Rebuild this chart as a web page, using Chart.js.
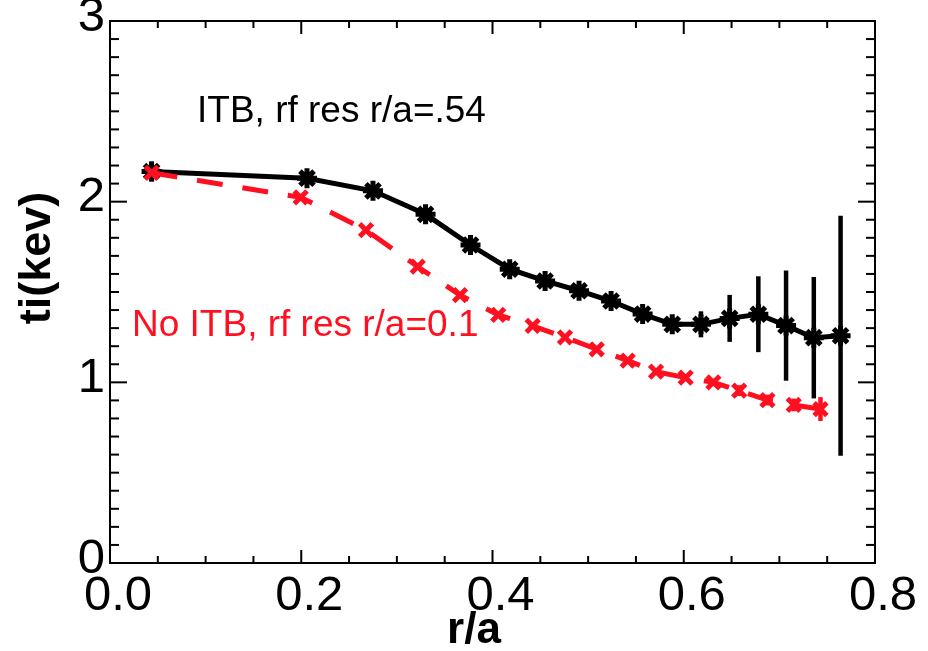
<!DOCTYPE html>
<html>
<head>
<meta charset="utf-8">
<script src="https://cdn.jsdelivr.net/npm/chart.js@4"></script>
<style>
  html, body { margin: 0; padding: 0; background: #fff; }
  canvas { display: block; }
</style>
</head>
<body>
<canvas id="tiChart" width="928" height="651"></canvas>
<script>
// r/a positions and ion temperatures (keV)
const rItb = [0.0435, 0.206, 0.275, 0.330, 0.377, 0.418, 0.455, 0.4905, 0.524, 0.557, 0.588, 0.618, 0.648, 0.678, 0.707, 0.736, 0.764];
const tiItb = [2.167, 2.13, 2.06, 1.93, 1.76, 1.626, 1.561, 1.507, 1.45, 1.378, 1.321, 1.321, 1.354, 1.377, 1.314, 1.247, 1.258];
const errItb = [0.055, 0.02, 0.02, 0.02, 0.02, 0.02, 0.02, 0.02, 0.02, 0.02, 0.03, 0.072, 0.13, 0.21, 0.305, 0.336, 0.664];

const rNoItb = [0.0435, 0.1994, 0.2677, 0.3218, 0.366, 0.406, 0.442, 0.4758, 0.509, 0.5414, 0.571, 0.602, 0.631, 0.658, 0.6875, 0.715, 0.743];
const tiNoItb = [2.16, 2.024, 1.843, 1.64, 1.483, 1.373, 1.312, 1.249, 1.183, 1.12, 1.059, 1.026, 1.0, 0.954, 0.902, 0.875, 0.852];
const errNoItb = [0.01, 0.01, 0.01, 0.01, 0.01, 0.01, 0.01, 0.01, 0.01, 0.01, 0.01, 0.015, 0.02, 0.03, 0.03, 0.035, 0.066];

const xTickValues = [0.0, 0.2, 0.4, 0.6, 0.8];
const yTickValues = [0, 1, 2, 3];

const RED = 'rgb(255, 16, 32)';
const FONT = "'Liberation Sans', Arial, Helvetica, sans-serif";

const toPoints = (xs, ys) => xs.map((x, i) => ({x: x, y: ys[i]}));

// vertical error bars, drawn under the markers
const errorBars = {
    id: 'errorBars',
    beforeDatasetsDraw(chart) {
        const {ctx, scales: {x, y}} = chart;
        const sets = [
            {xs: rItb, ys: tiItb, es: errItb, color: '#000'},
            {xs: rNoItb, ys: tiNoItb, es: errNoItb, color: RED},
        ];
        ctx.save();
        ctx.lineWidth = 4.5;
        for (const s of sets) {
            ctx.strokeStyle = s.color;
            s.xs.forEach((xv, i) => {
                const px = x.getPixelForValue(xv);
                ctx.beginPath();
                ctx.moveTo(px, y.getPixelForValue(s.ys[i] - s.es[i]));
                ctx.lineTo(px, y.getPixelForValue(s.ys[i] + s.es[i]));
                ctx.stroke();
            });
        }
        ctx.restore();
    },
};

// box frame with inward ticks on all four sides
const frameTicks = {
    id: 'frameTicks',
    afterDraw(chart) {
        const {ctx, chartArea: a, scales: {x, y}} = chart;
        ctx.save();
        ctx.strokeStyle = '#000';
        ctx.lineWidth = 2;
        ctx.strokeRect(a.left, a.top, a.right - a.left, a.bottom - a.top);
        const seg = (x1, y1, x2, y2) => {
            ctx.beginPath();
            ctx.moveTo(x1, y1);
            ctx.lineTo(x2, y2);
            ctx.stroke();
        };
        for (let i = 0; i <= 16; i++) {
            const px = x.getPixelForValue(i * 0.05);
            const len = i % 4 === 0 ? 13 : 7;
            seg(px, a.bottom, px, a.bottom - len);
            seg(px, a.top, px, a.top + len);
        }
        for (let i = 0; i <= 30; i++) {
            const py = y.getPixelForValue(i * 0.1);
            const len = i % 10 === 0 ? 17 : 9;
            seg(a.left, py, a.left + len, py);
            seg(a.right, py, a.right - len, py);
        }
        ctx.restore();
    },
};

// in-plot labels for the two cases, plus the axis titles
const caseLabels = {
    id: 'caseLabels',
    afterDraw(chart) {
        const {ctx, scales: {x, y}} = chart;
        ctx.save();
        ctx.font = '37px ' + FONT;
        ctx.textBaseline = 'alphabetic';
        ctx.textAlign = 'left';
        ctx.fillStyle = '#000';
        ctx.fillText('ITB, rf res r/a=.54', x.getPixelForValue(0.091), y.getPixelForValue(2.441));
        ctx.fillStyle = RED;
        ctx.fillText('No ITB, rf res r/a=0.1', x.getPixelForValue(0.023), y.getPixelForValue(1.259));

        ctx.fillStyle = '#000';
        ctx.font = 'bold 44px ' + FONT;
        ctx.textAlign = 'center';
        ctx.textBaseline = 'middle';
        ctx.fillText('r/a', 474, 631);
        ctx.translate(38, 258);
        ctx.rotate(-Math.PI / 2);
        ctx.font = 'bold 45px ' + FONT;
        ctx.fillText('ti(kev)', 0, 0);
        ctx.restore();
    },
};

const ctx = document.getElementById('tiChart').getContext('2d');

new Chart(ctx, {
    type: 'scatter',
    data: {
        datasets: [
            {
                label: 'No ITB, rf res r/a=0.1',
                data: toPoints(rNoItb, tiNoItb),
                showLine: true,
                borderColor: RED,
                borderWidth: 5,
                borderDash: [26, 20],
                pointStyle: 'crossRot',
                pointRadius: 9,
                pointBorderWidth: 5,
                pointBorderColor: RED,
                pointBackgroundColor: RED,
            },
            {
                label: 'ITB, rf res r/a=.54',
                data: toPoints(rItb, tiItb),
                showLine: true,
                borderColor: '#000',
                borderWidth: 5,
                pointStyle: 'star',
                pointRadius: 10,
                pointBorderWidth: 5,
                pointBorderColor: '#000',
                pointBackgroundColor: '#000',
            },
        ],
    },
    options: {
        responsive: false,
        animation: false,
        layout: {padding: {top: 21, right: 53, left: 0, bottom: 0}},
        plugins: {
            legend: {display: false},
            tooltip: {enabled: false},
        },
        scales: {
            x: {
                type: 'linear',
                min: 0,
                max: 0.8,
                afterFit(scale) {
                    scale.height = 88;
                    scale.paddingLeft = 0;
                    scale.paddingRight = 0;
                },
                afterBuildTicks(scale) { scale.ticks = xTickValues.map(v => ({value: v})); },
                grid: {display: false, drawTicks: false},
                border: {display: false},
                ticks: {
                    color: '#000',
                    font: {family: FONT, size: 49},
                    padding: 4,
                    labelOffset: 8,
                    maxRotation: 0,
                    autoSkip: false,
                    callback: v => v.toFixed(1),
                },
                title: {display: false},
            },
            y: {
                type: 'linear',
                min: 0,
                max: 3,
                afterFit(scale) {
                    scale.width = 110;
                    scale.paddingTop = 0;
                    scale.paddingBottom = 0;
                },
                afterBuildTicks(scale) { scale.ticks = yTickValues.map(v => ({value: v})); },
                grid: {display: false, drawTicks: false},
                border: {display: false},
                ticks: {
                    color: '#000',
                    font: {family: FONT, size: 49},
                    padding: 5,
                    labelOffset: -4,
                    autoSkip: false,
                    callback: v => String(v),
                },
                title: {display: false},
            },
        },
    },
    plugins: [errorBars, frameTicks, caseLabels],
});
</script>
</body>
</html>
